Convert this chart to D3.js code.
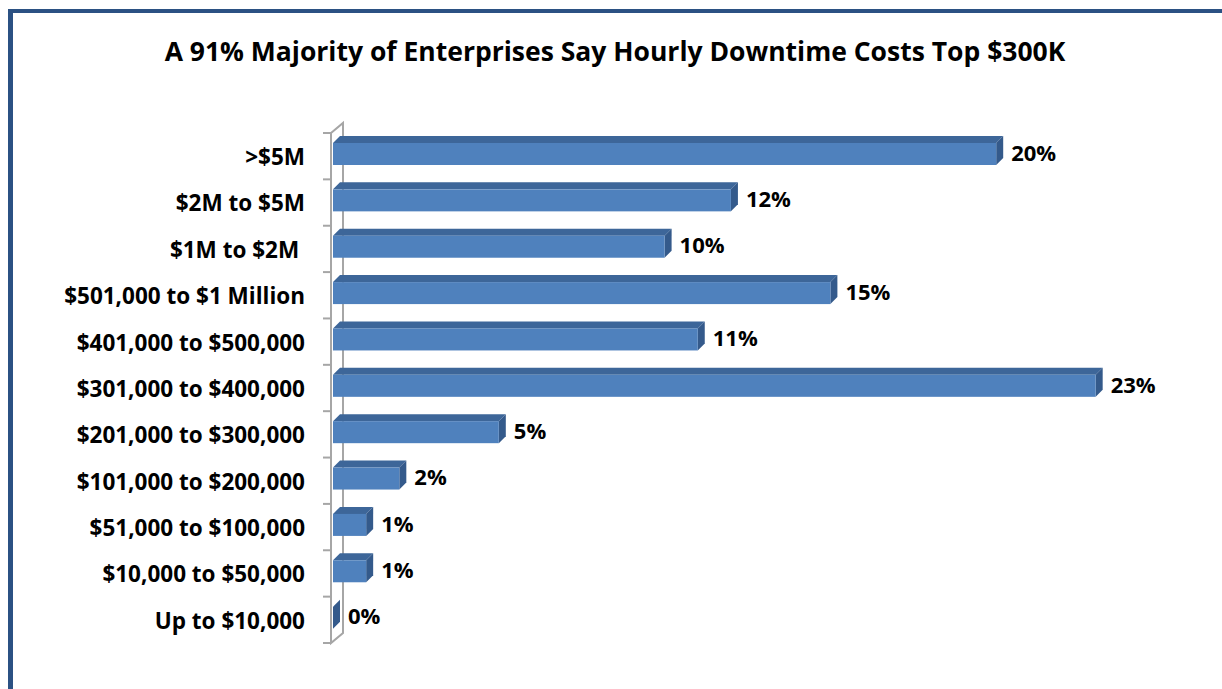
<!DOCTYPE html>
<html>
<head>
<meta charset="utf-8">
<script src="https://cdn.jsdelivr.net/npm/d3@7"></script>
<style>
  body { margin: 0; background: #fff; }
  text { font-family: "Open Sans", Lato, sans-serif; font-weight: bold; fill: #000; }
</style>
</head>
<body>
<div id="chart"></div>
<script>
// chart data
let categories = [">$5M", "$2M to $5M", "$1M to $2M ", "$501,000 to $1 Million", "$401,000 to $500,000",
    "$301,000 to $400,000", "$201,000 to $300,000", "$101,000 to $200,000", "$51,000 to $100,000",
    "$10,000 to $50,000", "Up to $10,000"];
let values = [20, 12, 10, 15, 11, 23, 5, 2, 1, 1, 0];
let valueLabels = ["20%", "12%", "10%", "15%", "11%", "23%", "5%", "2%", "1%", "1%", "0%"];
let titleText = "A 91% Majority of Enterprises Say Hourly Downtime Costs Top $300K";

const width = 1222, height = 689;
const depth = 7;        // 3d bar depth offset
const wallDx = 12, wallDy = 10;

let svg = d3.select("#chart")
    .append("svg")
    .attr("width", width)
    .attr("height", height);

// page frame (blue border top + left)
svg.append("rect").attr("x", 8).attr("y", 9).attr("width", width - 8).attr("height", 4).attr("fill", "#2b5183");
svg.append("rect").attr("x", 8).attr("y", 9).attr("width", 5).attr("height", height - 9).attr("fill", "#2b5183");

let title = svg.append("text")
    .attr("x", 615)
    .attr("y", 61)
    .style("text-anchor", "middle")
    .style("font-size", "26.5px")
    .text(titleText);

let x = d3.scaleLinear()
    .domain([0, 25])
    .range([333, 333 + 829]);

let y = d3.scaleBand()
    .domain(categories)
    .range([133, 643]);

// axis wall: front + back lines
let axisG = svg.append("g").attr("stroke", "#a6a6a6").attr("stroke-width", 2).attr("fill", "none");
let yTop = y.range()[0], yBot = y.range()[1], ax = 331;
axisG.append("path")
    .attr("d", `M${ax},${yTop}L${ax},${yBot}L${ax + wallDx},${yBot - wallDy}L${ax + wallDx},${yTop - wallDy}L${ax},${yTop}`);
let ticks = categories.map(c => y(c)).concat([yBot]);
axisG.selectAll("line.tick").data(ticks).enter()
    .append("line")
    .attr("class", "tick")
    .attr("x1", ax - 8).attr("x2", ax)
    .attr("y1", d => d).attr("y2", d => d);

// category labels
svg.selectAll("text.cat").data(categories).enter()
    .append("text")
    .attr("class", "cat")
    .attr("x", 305)
    .attr("y", d => y(d) + y.bandwidth() / 2 + 1)
    .attr("dy", "0.35em")
    .style("text-anchor", "end")
    .style("font-size", "22.5px")
    .style("white-space", "pre")
    .text(d => d);

// bars
let data = categories.map((c, i) => ({cat: c, value: values[i], label: valueLabels[i]}));
const barH = 22, barOff = 10;

let bars = svg.selectAll("g.bar").data(data).enter().append("g").attr("class", "bar");

bars.append("path")   // top face
    .attr("fill", "#3d6699")
    .attr("d", function(d) {
        let x0 = x(0), x1 = x(d.value), yt = y(d.cat) + barOff;
        return `M${x0},${yt}L${x0 + depth},${yt - depth}L${x1 + depth},${yt - depth}L${x1},${yt}Z`;
    });

bars.append("path")   // side face
    .attr("fill", "#345a8b")
    .attr("d", function(d) {
        let x1 = x(d.value), yt = y(d.cat) + barOff;
        return `M${x1},${yt}L${x1 + depth},${yt - depth}L${x1 + depth},${yt + barH - depth}L${x1},${yt + barH}Z`;
    });

bars.append("rect")   // front face
    .attr("fill", "#4f81bd")
    .attr("x", x(0))
    .attr("y", d => y(d.cat) + barOff)
    .attr("width", d => x(d.value) - x(0))
    .attr("height", barH);

bars.append("text")
    .attr("x", d => x(d.value) + depth + 8)
    .attr("y", d => y(d.cat) + barOff + barH / 2 - 1)
    .attr("dy", "0.35em")
    .style("font-size", "22px")
    .text(d => d.label);
</script>
</body>
</html>
